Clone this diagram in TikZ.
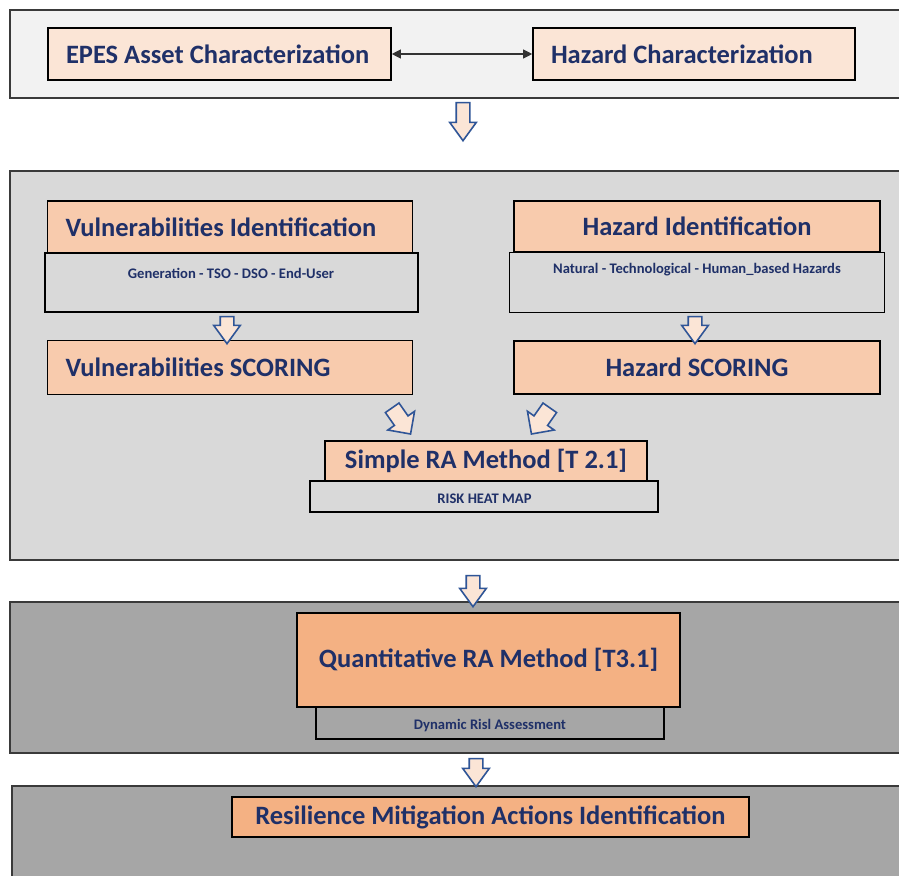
\documentclass[tikz,border=0pt]{standalone}
\usepackage{fontspec}
\setmainfont{Carlito}
\usetikzlibrary{shapes.arrows,arrows.meta}

\definecolor{inkblue}{HTML}{1F3068}
\definecolor{peachlight}{HTML}{FBE5D6}
\definecolor{peachmid}{HTML}{F8CBAD}
\definecolor{peachdark}{HTML}{F4B183}
\definecolor{panelone}{HTML}{F2F2F2}
\definecolor{paneltwo}{HTML}{D9D9D9}
\definecolor{panelthree}{HTML}{A6A6A6}
\definecolor{arrowline}{HTML}{2F5597}
\definecolor{frameline}{HTML}{3A3A3A}

\tikzset{
  panel/.style={draw=frameline, line width=2pt},
  titlebox/.style={draw=black, line width=1.6pt, inner ysep=0pt,
    font=\fontsize{26.5}{30}\selectfont\bfseries, text=inkblue},
  lefttitle/.style={titlebox, inner xsep=18pt, anchor=center},
  midtitle/.style={titlebox, inner sep=0pt, align=center},
  subbox/.style={draw=black, line width=1.6pt, inner sep=0pt},
  subtext/.style={font=\fontsize{14.6}{17}\selectfont\bfseries, text=inkblue, inner sep=0pt},
  % hollow block arrow: the shaft half-width is the inner ysep
  blockarrow/.style={single arrow, draw=arrowline, fill=peachlight, line width=1.6pt,
    inner xsep=0pt, inner ysep=6pt, minimum width=0pt, single arrow head extend=6.5pt,
    single arrow tip angle=72, minimum height=#1},
  slantarrow/.style={blockarrow=#1, inner ysep=7.5pt, single arrow head extend=8pt,
    single arrow tip angle=90},
}

\begin{document}
\begin{tikzpicture}[x=1pt, y=-1pt]
\useasboundingbox (0,0) rectangle (899,875);
\clip (0,0) rectangle (899,875);
\fill[white] (0,0) rectangle (899,875);

% ---- stage panels
\draw[panel, fill=panelone]   (10,10)  rectangle (910,98);
\draw[panel, fill=paneltwo]   (10,171) rectangle (910,560);
\draw[panel, fill=panelthree] (10,602) rectangle (910,753);
\draw[panel, fill=panelthree] (12,786) rectangle (910,890);

% ---- characterization stage
\node[lefttitle, fill=peachlight, minimum height=52pt] (asset) at (219.5,54)
  {\makebox[307pt][l]{EPES Asset Characterization}};
\node[lefttitle, fill=peachlight, minimum height=52pt] (hazchar) at (694,54)
  {\makebox[286pt][l]{Hazard Characterization}};
\draw[line width=1.1pt, draw=black!80, {Triangle[length=9pt,width=9pt]}-{Triangle[length=9pt,width=9pt]}] (asset.east) -- (hazchar.west);

% ---- identification and scoring stage
\node[subbox, fill=paneltwo, minimum width=373pt, minimum height=59pt] (vulnsub) at (231.5,282.5) {};
\node[subtext] (vulnlist) at (231,273) {Generation - TSO - DSO - End-User};
\node[lefttitle, fill=peachmid, minimum height=52pt] (vulnid) at (230,227)
  {\makebox[329pt][l]{Vulnerabilities Identification}};
\node[lefttitle, fill=peachmid, minimum height=54pt] (vulnscore) at (230,367.5)
  {\makebox[329pt][l]{Vulnerabilities SCORING}};

\node[subbox, fill=paneltwo, minimum width=375pt, minimum height=60pt] (hazsub) at (697,282.5) {};
\node[subtext] (hazlist) at (697,270) {Natural - Technological - Human\_based Hazards};
\node[midtitle, fill=peachmid, minimum width=366pt, minimum height=51pt] (hazid) at (697,226.5) {Hazard Identification};
\node[midtitle, fill=peachmid, minimum width=366pt, minimum height=53pt] (hazscore) at (697,367.5) {Hazard SCORING};

\node[subbox, fill=paneltwo, minimum width=348pt, minimum height=31pt] (heatsub) at (484,496.5) {};
\node[subtext] (heatmap) at (484.5,499) {RISK HEAT MAP};
\node[midtitle, fill=peachmid, minimum width=322pt, minimum height=40pt] (simplera) at (486,461) {Simple RA Method [T 2.1]};

\node[blockarrow=27pt, rotate=-90] (vulnflow) at (227,325.5) {};
\node[blockarrow=27pt, rotate=-90] (hazflow) at (695,325.5) {};
\node[slantarrow=32pt, rotate=-55] (vulnmerge) at (399,417.5) {};
\node[slantarrow=32pt, rotate=-125] (hazmerge) at (543,417.5) {};

% ---- quantitative stage
\node[subbox, fill=panelthree, minimum width=348pt, minimum height=32pt] (dynsub) at (490,723) {};
\node[subtext] (dynlabel) at (490,726) {Dynamic Risl Assessment};
\node[midtitle, fill=peachdark, minimum width=383pt, minimum height=94pt] (quantra) at (488.5,660) {Quantitative RA Method [T3.1]};

% ---- mitigation stage
\node[midtitle, fill=peachdark, minimum width=517pt, minimum height=40pt] (mitigation) at (490.5,817) {Resilience Mitigation Actions Identification};

% ---- flow between stages
\node[blockarrow=38pt, rotate=-90] (flowone) at (463,117) {};
\node[blockarrow=31pt, rotate=-90] (flowtwo) at (473,586.5) {};
\node[blockarrow=28pt, rotate=-90] (flowthree) at (476,768) {};
\end{tikzpicture}
\end{document}
